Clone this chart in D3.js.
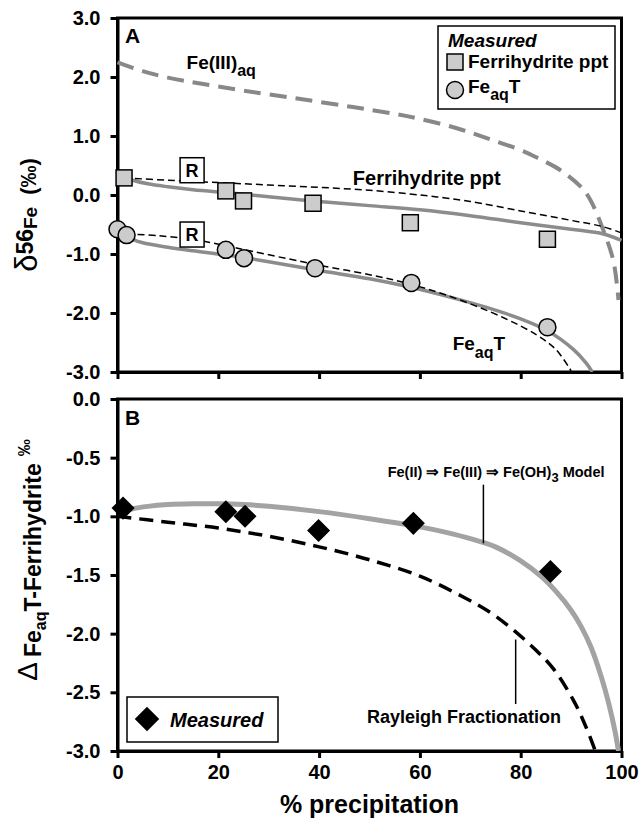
<!DOCTYPE html>
<html><head><meta charset="utf-8">
<script src="https://cdn.jsdelivr.net/npm/d3@7"></script>
<style>
body{margin:0;background:#fff}
text{font-family:"Liberation Sans",Arial,Helvetica,sans-serif;font-weight:bold;fill:#000}
</style>
</head><body>
<svg id="c" width="642" height="819"></svg>
<script>
// ---------- data ----------
const xTicks = [0, 20, 40, 60, 80, 100];
const yTicksA = [3.0, 2.0, 1.0, 0.0, -1.0, -2.0, -3.0];
const yTicksB = [0.0, -0.5, -1.0, -1.5, -2.0, -2.5, -3.0];

// Panel A measured
const ferriPct = [1.3, 21.5, 25.0, 38.8, 58.1, 85.3];
const ferriD56 = [0.29, 0.07, -0.10, -0.14, -0.47, -0.75];
const feaqPct  = [0.0, 1.8, 21.5, 25.1, 39.2, 58.3, 85.3];
const feaqD56  = [-0.58, -0.68, -0.93, -1.07, -1.24, -1.49, -2.24];

// Panel A model curves
const fe3Pct = [0, 5, 10, 16.4, 25, 36, 46.7, 54.7, 60, 67, 73.4, 80, 83.3, 87.9, 91.9, 93.8, 96.4, 98.4, 99.4];
const fe3D56 = [2.25, 2.10, 1.99, 1.89, 1.77, 1.63, 1.49, 1.38, 1.29, 1.14, 0.96, 0.76, 0.63, 0.42, 0.14, -0.08, -0.60, -1.12, -1.78];
const ferriModelPct = [1.3, 3, 6, 10, 15, 23, 30, 40, 50, 60, 70, 80, 90, 96.4, 100];
const ferriModelD56 = [0.30, 0.25, 0.19, 0.14, 0.09, 0.03, -0.03, -0.11, -0.18, -0.25, -0.35, -0.47, -0.58, -0.66, -0.77];
const ferriRayPct = [1.3, 10, 20, 30, 40, 50, 60, 65, 70, 80, 90, 96, 100];
const ferriRayD56 = [0.29, 0.25, 0.21, 0.17, 0.13, 0.08, 0.00, -0.05, -0.11, -0.27, -0.43, -0.53, -0.64];
const feaqModelPct = [1.8, 3, 5, 10, 15, 21.5, 30, 40, 50, 58, 66, 73.4, 80, 85.3, 90.5, 93, 94.2];
const feaqModelD56 = [-0.68, -0.75, -0.81, -0.885, -0.945, -1.015, -1.13, -1.28, -1.42, -1.56, -1.73, -1.91, -2.10, -2.30, -2.62, -2.85, -3.0];
const feaqRayPct = [1.8, 8, 14.8, 21.5, 27, 36, 40, 50, 56.7, 65.4, 76.6, 83.3, 87, 90];
const feaqRayD56 = [-0.66, -0.69, -0.75, -0.86, -0.96, -1.12, -1.19, -1.35, -1.48, -1.70, -2.08, -2.38, -2.62, -2.98];
const rBoxPct = [14.8, 14.8];
const rBoxD56 = [0.42, -0.67];

// Panel B
const deltaPct = [1.1, 21.5, 25.3, 39.9, 58.7, 85.9];
const deltaVal = [-0.93, -0.96, -1.00, -1.12, -1.06, -1.47];
const modelBPct = [0, 3, 6, 10, 15, 20, 25, 30, 40, 50, 60, 65, 70, 75, 80, 84, 87, 90, 92, 94, 96, 97.5, 98.7, 99.4];
const modelBVal = [-0.97, -0.935, -0.915, -0.90, -0.893, -0.893, -0.90, -0.915, -0.96, -1.02, -1.09, -1.135, -1.19, -1.26, -1.38, -1.51, -1.64, -1.80, -1.94, -2.12, -2.37, -2.60, -2.83, -3.0];
const rayBPct = [0, 10, 20, 30, 40, 50, 60, 68.7, 74, 78.6, 83, 86.5, 90.5, 93, 94.8];
const rayBVal = [-1.0, -1.05, -1.10, -1.17, -1.26, -1.37, -1.51, -1.69, -1.82, -1.97, -2.14, -2.30, -2.57, -2.80, -3.0];

// ---------- layout ----------
const svg = d3.select("#c");
const x = d3.scaleLinear([0, 100], [117.5, 621.5]);
const yA = d3.scaleLinear([-3, 3], [372, 18]);
const yB = d3.scaleLinear([-3, 0], [751, 399]);
const fmt = d => d3.format(".1f")(d).replace("\u2212", "-");

svg.append("defs").call(d => {
  d.append("clipPath").attr("id", "clipA").append("rect").attr("x", 117).attr("y", 18).attr("width", 505).attr("height", 354);
  d.append("clipPath").attr("id", "clipB").append("rect").attr("x", 117).attr("y", 399).attr("width", 505).attr("height", 352);
});

function frame(y) {
  const r = y.range();
  svg.append("rect").attr("x", x(0)).attr("y", r[1]).attr("width", x(100) - x(0)).attr("height", r[0] - r[1])
    .attr("fill", "none").attr("stroke", "#000").attr("stroke-width", 3);
}
frame(yA); frame(yB);

function styleAxis(g, fs) {
  g.select(".domain").attr("stroke-width", 3);
  g.selectAll(".tick line").attr("stroke-width", 3);
  g.selectAll(".tick text").attr("font-size", fs).attr("font-family", '"Liberation Sans",Arial,sans-serif').attr("font-weight", "bold");
}
// panel A axes
svg.append("g").attr("transform", `translate(${x(0)},0)`)
  .call(d3.axisLeft(yA).tickValues(yTicksA).tickFormat(fmt).tickSize(7).tickPadding(10).tickSizeOuter(0))
  .call(g => styleAxis(g, 20));
svg.append("g").attr("transform", `translate(0,${yA(-3)})`)
  .call(d3.axisBottom(x).tickValues(xTicks).tickFormat("").tickSize(7).tickSizeOuter(0))
  .call(g => styleAxis(g, 20));
// panel B axes
svg.append("g").attr("transform", `translate(${x(0)},0)`)
  .call(d3.axisLeft(yB).tickValues(yTicksB).tickFormat(fmt).tickSize(7).tickPadding(10).tickSizeOuter(0))
  .call(g => styleAxis(g, 20));
svg.append("g").attr("transform", `translate(0,${yB(-3)})`)
  .call(d3.axisBottom(x).tickValues(xTicks).tickSize(7).tickPadding(7).tickSizeOuter(0))
  .call(g => styleAxis(g, 20));

const zip = (a, b) => a.map((v, i) => [v, b[i]]);
function curve(y, px, py, clip, color, w, dash) {
  const line = d3.line().x(d => x(d[0])).y(d => y(d[1])).curve(d3.curveCatmullRom.alpha(0.5));
  svg.append("path").datum(zip(px, py)).attr("d", line).attr("clip-path", `url(#${clip})`)
    .attr("fill", "none").attr("stroke", color).attr("stroke-width", w)
    .attr("stroke-dasharray", dash || null);
}

// ---------- Panel A ----------
curve(yA, fe3Pct, fe3D56, "clipA", "#888", 4, "17,9");
curve(yA, ferriModelPct, ferriModelD56, "clipA", "#8c8c8c", 3.5);
curve(yA, feaqModelPct, feaqModelD56, "clipA", "#8c8c8c", 3.5);
curve(yA, ferriRayPct, ferriRayD56, "clipA", "#000", 1.5, "7,4");
curve(yA, feaqRayPct, feaqRayD56, "clipA", "#000", 1.5, "7,4");

// R boxes
const rg = svg.append("g").selectAll("g").data(zip(rBoxPct, rBoxD56)).join("g")
  .attr("transform", d => `translate(${x(d[0])},${yA(d[1])})`);
rg.append("rect").attr("x", -12).attr("y", -12.5).attr("width", 24).attr("height", 25)
  .attr("fill", "#fff").attr("stroke", "#000").attr("stroke-width", 1.5);
rg.append("text").attr("text-anchor", "middle").attr("y", 6.5).attr("font-size", 18).text("R");

// markers
svg.append("g").selectAll("rect").data(zip(ferriPct, ferriD56)).join("rect")
  .attr("x", d => x(d[0]) - 8).attr("y", d => yA(d[1]) - 8).attr("width", 16).attr("height", 16)
  .attr("fill", "#ccc").attr("stroke", "#000").attr("stroke-width", 1.5);
svg.append("g").selectAll("circle").data(zip(feaqPct, feaqD56)).join("circle")
  .attr("cx", d => x(d[0])).attr("cy", d => yA(d[1])).attr("r", 8.5)
  .attr("fill", "#ccc").attr("stroke", "#000").attr("stroke-width", 1.5);

// labels A
svg.append("text").attr("x", 125).attr("y", 43).attr("font-size", 21).text("A");
svg.append("text").attr("x", x(13.7)).attr("y", yA(2.13)).attr("font-size", 19)
  .call(t => { t.append("tspan").text("Fe(III)"); t.append("tspan").attr("font-size", 16).attr("dy", 7).text("aq"); });
svg.append("text").attr("x", x(46.7)).attr("y", yA(0.17)).attr("font-size", 20).text("Ferrihydrite ppt");
svg.append("text").attr("x", x(66.5)).attr("y", yA(-2.63)).attr("font-size", 19)
  .call(t => { t.append("tspan").text("Fe"); t.append("tspan").attr("font-size", 16).attr("dy", 8).text("aq");
               t.append("tspan").attr("dy", -8).text("T"); });

// legend A
svg.append("rect").attr("x", 438).attr("y", 26).attr("width", 177).attr("height", 83)
  .attr("fill", "#fff").attr("stroke", "#000").attr("stroke-width", 1.5);
svg.append("text").attr("x", 448).attr("y", 47).attr("font-size", 19).attr("font-style", "italic").text("Measured");
svg.append("rect").attr("x", 447).attr("y", 54).attr("width", 16).attr("height", 16)
  .attr("fill", "#ccc").attr("stroke", "#000").attr("stroke-width", 1.5);
svg.append("text").attr("x", 468).attr("y", 68).attr("font-size", 19).text("Ferrihydrite ppt");
svg.append("circle").attr("cx", 455).attr("cy", 90).attr("r", 8.5)
  .attr("fill", "#ccc").attr("stroke", "#000").attr("stroke-width", 1.5);
svg.append("text").attr("x", 468).attr("y", 93).attr("font-size", 19)
  .call(t => { t.append("tspan").text("Fe"); t.append("tspan").attr("font-size", 16).attr("dy", 7).text("aq");
               t.append("tspan").attr("dy", -7).text("T"); });

// y title A
svg.append("text").attr("transform", "translate(37,215) rotate(-90)").attr("text-anchor", "middle")
  .call(t => {
    t.append("tspan").attr("font-size", 31).attr("font-weight", "normal").text("δ");
    t.append("tspan").attr("font-size", 23).attr("dy", -4).text("56");
    t.append("tspan").attr("font-size", 19).attr("dy", 4).text("Fe");
    t.append("tspan").attr("font-size", 22).attr("dx", 12).attr("dy", -1).text("(‰)");
  });

// ---------- Panel B ----------
curve(yB, rayBPct, rayBVal, "clipB", "#000", 3.5, "14,8");
curve(yB, modelBPct, modelBVal, "clipB", "#a3a3a3", 5);

svg.append("g").selectAll("path").data(zip(deltaPct, deltaVal)).join("path")
  .attr("d", d3.symbol(d3.symbolSquare, 265))
  .attr("transform", d => `translate(${x(d[0])},${yB(d[1])}) rotate(45)`).attr("fill", "#000");

svg.append("text").attr("x", 125).attr("y", 425).attr("font-size", 21).text("B");

// annotations
svg.append("text").attr("x", x(53.6)).attr("y", yB(-0.665)).attr("font-size", 14.5)
  .call(t => {
    t.append("tspan").text("Fe(II) ⇒ Fe(III) ⇒ Fe(OH)");
    t.append("tspan").attr("font-size", 13).attr("dy", 5).text("3");
    t.append("tspan").attr("dy", -5).text(" Model");
  });
svg.append("line").attr("x1", x(72.6)).attr("x2", x(72.6)).attr("y1", yB(-0.73)).attr("y2", yB(-1.23))
  .attr("stroke", "#000").attr("stroke-width", 1.5);
svg.append("text").attr("x", x(49.5)).attr("y", yB(-2.76)).attr("font-size", 18).text("Rayleigh Fractionation");
svg.append("line").attr("x1", x(79)).attr("x2", x(79)).attr("y1", yB(-2.05)).attr("y2", yB(-2.6))
  .attr("stroke", "#000").attr("stroke-width", 1.5);

// legend B
svg.append("rect").attr("x", 127).attr("y", 697).attr("width", 151).attr("height", 45)
  .attr("fill", "#fff").attr("stroke", "#000").attr("stroke-width", 1.5);
svg.append("path").attr("d", d3.symbol(d3.symbolSquare, 300)).attr("transform", "translate(147,719) rotate(45)").attr("fill", "#000");
svg.append("text").attr("x", 170).attr("y", 727).attr("font-size", 20).attr("font-style", "italic").text("Measured");

// y title B
svg.append("text").attr("transform", "translate(37,560) rotate(-90)").attr("text-anchor", "middle")
  .call(t => {
    t.append("tspan").attr("font-size", 28).attr("font-weight", "normal").text("Δ");
    t.append("tspan").attr("font-size", 23).attr("dx", 5).attr("dy", 4).text("Fe");
    t.append("tspan").attr("font-size", 16).attr("dy", 5).text("aq");
    t.append("tspan").attr("font-size", 23).attr("dy", -5).text("T-Ferrihydrite");
    t.append("tspan").attr("font-size", 17).attr("dx", 7).attr("dy", -11).text("‰");
  });

// x title
svg.append("text").attr("x", x(50)).attr("y", 813).attr("text-anchor", "middle").attr("font-size", 25).text("% precipitation");
</script>
</body></html>
